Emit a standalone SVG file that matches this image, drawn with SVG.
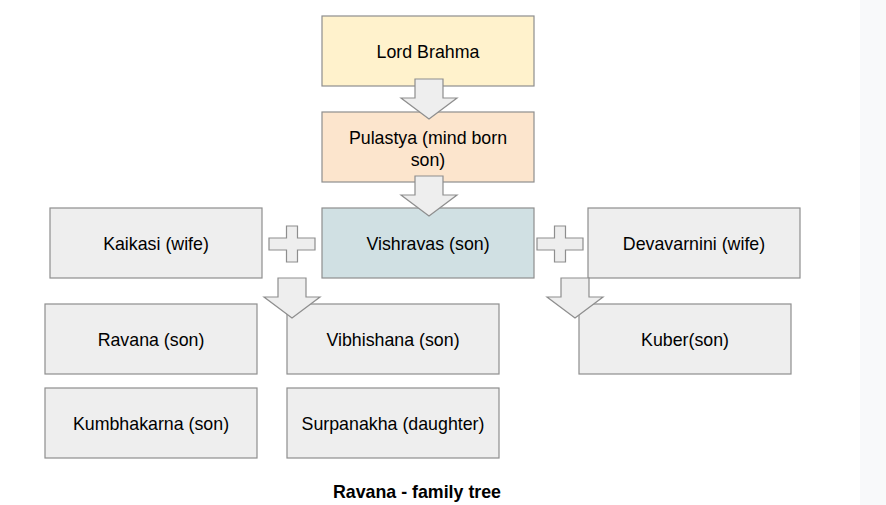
<svg xmlns="http://www.w3.org/2000/svg" width="886" height="505" viewBox="0 0 886 505">
<style>
.box{stroke:#8e8e8e;stroke-width:1.2}
.g{fill:#eeeeee}
.t{font-family:"Liberation Sans",Arial,sans-serif;font-size:17.8px;fill:#000;text-anchor:middle}
.b{font-weight:bold}
.arr{fill:#eeeeee;stroke:#8e8e8e;stroke-width:1.2;stroke-linejoin:miter}
</style>
<defs>
<path id="down" d="M-14,0 H14 V19 H28 L0,40 L-28,19 H-14 Z"/>
<path id="plus" d="M-5.5,-18 H5.5 V-6 H23 V6 H5.5 V18 H-5.5 V6 H-23 V-6 H-5.5 Z"/>
</defs>
<rect x="0" y="0" width="886" height="505" fill="#ffffff"/>
<rect x="860" y="0" width="26" height="505" fill="#f8f9fa"/>
<g id="brahma"><rect class="box" x="322" y="16" width="212" height="70" fill="#fff2cc"/><text class="t" x="428" y="57.5">Lord Brahma</text></g>
<g id="pulastya"><rect class="box" x="322" y="112" width="212" height="70" fill="#fce5cd"/><text class="t" x="428" y="144">Pulastya (mind born</text><text class="t" x="428" y="166">son)</text></g>
<g id="vishravas"><rect class="box" x="322" y="208" width="212" height="70" fill="#d0e0e3"/><text class="t" x="428" y="249.5">Vishravas (son)</text></g>
<g id="kaikasi"><rect class="box g" x="50" y="208" width="212" height="70"/><text class="t" x="156" y="249.5">Kaikasi (wife)</text></g>
<g id="devavarnini"><rect class="box g" x="588" y="208" width="212" height="70"/><text class="t" x="694" y="249.5">Devavarnini (wife)</text></g>
<g id="ravana"><rect class="box g" x="45" y="304" width="212" height="70"/><text class="t" x="151" y="345.5">Ravana (son)</text></g>
<g id="vibhishana"><rect class="box g" x="287" y="304" width="212" height="70"/><text class="t" x="393" y="345.5">Vibhishana (son)</text></g>
<g id="kuber"><rect class="box g" x="579" y="304" width="212" height="70"/><text class="t" x="685" y="345.5">Kuber(son)</text></g>
<g id="kumbhakarna"><rect class="box g" x="45" y="388" width="212" height="70"/><text class="t" x="151" y="429.5">Kumbhakarna (son)</text></g>
<g id="surpanakha"><rect class="box g" x="287" y="388" width="212" height="70"/><text class="t" x="393" y="429.5">Surpanakha (daughter)</text></g>
<g id="connectors">
<use href="#down" class="arr" transform="translate(429,79)"/>
<use href="#down" class="arr" transform="translate(429,176)"/>
<use href="#plus" class="arr" transform="translate(292,244)"/>
<use href="#plus" class="arr" transform="translate(560,244)"/>
<use href="#down" class="arr" transform="translate(292,278)"/>
<use href="#down" class="arr" transform="translate(575,278)"/>
</g>
<text id="title" class="t b" x="417" y="498">Ravana - family tree</text>
</svg>
